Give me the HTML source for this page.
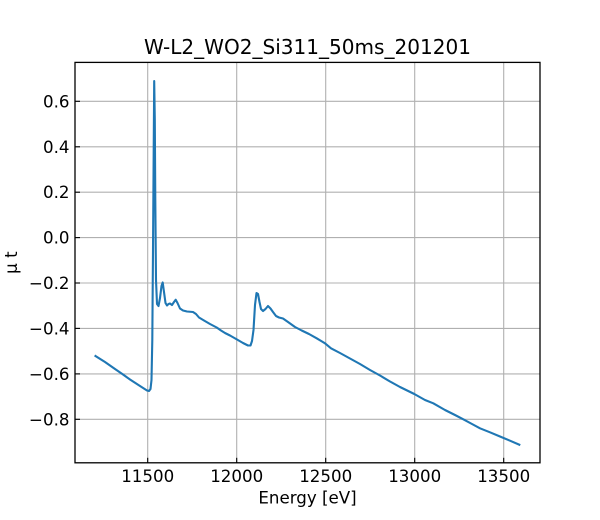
<!DOCTYPE html>
<html>
<head>
<meta charset="utf-8">
<style>
html,body{margin:0;padding:0;background:#fff;}
svg{display:block;}
text{font-family:"DejaVu Sans","Liberation Sans",sans-serif;fill:#000;}
</style>
</head>
<body>
<svg width="600" height="520" viewBox="0 0 600 520" xmlns="http://www.w3.org/2000/svg">
<rect x="0" y="0" width="600" height="520" fill="#fff"/>
<!-- grid -->
<g stroke="#b0b0b0" stroke-width="1.1">
<line x1="147.7" y1="62.4" x2="147.7" y2="462.8"/>
<line x1="236.7" y1="62.4" x2="236.7" y2="462.8"/>
<line x1="325.7" y1="62.4" x2="325.7" y2="462.8"/>
<line x1="414.7" y1="62.4" x2="414.7" y2="462.8"/>
<line x1="503.7" y1="62.4" x2="503.7" y2="462.8"/>
<line x1="75" y1="101.3" x2="540" y2="101.3"/>
<line x1="75" y1="146.8" x2="540" y2="146.8"/>
<line x1="75" y1="192.2" x2="540" y2="192.2"/>
<line x1="75" y1="237.6" x2="540" y2="237.6"/>
<line x1="75" y1="283.0" x2="540" y2="283.0"/>
<line x1="75" y1="328.4" x2="540" y2="328.4"/>
<line x1="75" y1="373.9" x2="540" y2="373.9"/>
<line x1="75" y1="419.3" x2="540" y2="419.3"/>
</g>
<!-- data line -->
<polyline fill="none" stroke="#1f77b4" stroke-width="2.1" stroke-linejoin="round" stroke-linecap="square"
points="95.5,356 105,362 115,369 122.3,374 130,379.5 140,386 147,390.5 149,391 150.5,389 151.5,380 152.3,340 153,250 153.7,150 154.2,81 154.8,120 155.3,200 156,280 157,304 158.5,306 160,298 161.5,286 162.7,282.5 164,292 165.5,303 167,305.5 168.5,304 170,303.5 172,305 174,302 175.7,299.7 177.5,303 180,308.5 183,310.5 187,311.5 193,312 196,314 199,317.5 204,320.5 210,324 216.7,327.5 221,330.5 225,333 230,335.5 237,339.5 243,343 248,345.5 250.5,345.5 252,341 253.5,330 255,305 256.5,293 258,294 259.5,302 261,309 263,311 265.5,309 268,306 270.5,308.5 273,312 276,316 279,317.5 283,318.5 288,322 295,327 301.7,330.5 309,334 316.7,338.3 322,341.5 325,343.3 331,348.3 340,353 350,358.5 360,364 370,370 380,375.5 390,381.5 400,387 414.3,394 425,400 433.3,403.3 445,410 455,415 463.3,419.3 472,424 480,428.3 490,432.3 500,436.5 510,440.7 519.3,444.7"/>
<!-- ticks (inward, bottom & left) -->
<g stroke="#000" stroke-width="1.1">
<line x1="147.7" y1="462.8" x2="147.7" y2="457.8"/>
<line x1="236.7" y1="462.8" x2="236.7" y2="457.8"/>
<line x1="325.7" y1="462.8" x2="325.7" y2="457.8"/>
<line x1="414.7" y1="462.8" x2="414.7" y2="457.8"/>
<line x1="503.7" y1="462.8" x2="503.7" y2="457.8"/>
<line x1="75" y1="101.3" x2="80" y2="101.3"/>
<line x1="75" y1="146.8" x2="80" y2="146.8"/>
<line x1="75" y1="192.2" x2="80" y2="192.2"/>
<line x1="75" y1="237.6" x2="80" y2="237.6"/>
<line x1="75" y1="283.0" x2="80" y2="283.0"/>
<line x1="75" y1="328.4" x2="80" y2="328.4"/>
<line x1="75" y1="373.9" x2="80" y2="373.9"/>
<line x1="75" y1="419.3" x2="80" y2="419.3"/>
</g>
<!-- spines -->
<rect x="75" y="62.4" width="465" height="400.4" fill="none" stroke="#000" stroke-width="1.3"/>
<!-- x tick labels -->
<g font-size="16.67" text-anchor="middle">
<text x="147.7" y="482">11500</text>
<text x="236.7" y="482">12000</text>
<text x="325.7" y="482">12500</text>
<text x="414.7" y="482">13000</text>
<text x="503.7" y="482">13500</text>
</g>
<!-- y tick labels -->
<g font-size="16.67" text-anchor="end">
<text x="69.5" y="107.3">0.6</text>
<text x="69.5" y="152.8">0.4</text>
<text x="69.5" y="198.2">0.2</text>
<text x="69.5" y="243.6">0.0</text>
<text x="69.5" y="289.0">−0.2</text>
<text x="69.5" y="334.4">−0.4</text>
<text x="69.5" y="379.9">−0.6</text>
<text x="69.5" y="425.3">−0.8</text>
</g>
<!-- axis labels -->
<text x="307.5" y="503.5" font-size="16.67" text-anchor="middle">Energy [eV]</text>
<text transform="translate(17,262.6) rotate(-90)" font-size="16.67" text-anchor="middle">μ t</text>
<!-- title -->
<text x="307.5" y="54" font-size="20" text-anchor="middle" textLength="327" lengthAdjust="spacingAndGlyphs">W-L2_WO2_Si311_50ms_201201</text>
</svg>
</body>
</html>
